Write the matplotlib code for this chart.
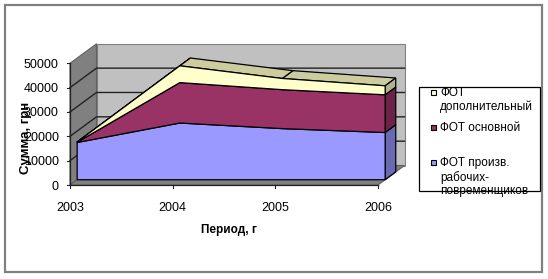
import matplotlib
matplotlib.use("Agg")
import matplotlib.pyplot as plt
from matplotlib.patches import Polygon, Rectangle
from matplotlib.lines import Line2D

plt.rcParams['font.family'] = ['Liberation Sans', 'DejaVu Sans']

years = [2003, 2004, 2005, 2006]
y_ticks = [0, 10000, 20000, 30000, 40000, 50000]

# cumulative tops
fot_worker = [15300, 23300, 21000, 19400]
fot_main = [15400, 39900, 37000, 34900]
fot_extra = [15500, 46800, 41600, 38600]

legend_labels = ["ФОТ\nдополнительный", "ФОТ основной", "ФОТ произв.\nрабочих-\nповременщиков"]

W, H = 548, 279

fig = plt.figure(figsize=(W / 100, H / 100), dpi=100)
# axes is the front plane of the 3d box
ax = fig.add_axes([70 / W, 1 - 185 / H, 308 / W, 121.7 / H])
ax.set_xlim(2003, 2006)
ax.set_ylim(0, 50000)
ax.patch.set_visible(False)
for s in ax.spines.values():
    s.set_visible(False)
ax.set_xticks(years)
ax.set_yticks(y_ticks)
ax.tick_params(axis="x", length=0, pad=12, labelsize=9)
ax.tick_params(axis="y", length=0, pad=8, labelsize=9)


def proj(year, value, depth):
    # oblique projection, depth 1 is the back wall
    px, py = ax.transData.transform((year, value))
    return (px + 26.5 * depth, py + 19.5 * depth)


def face(points, color, edge="black", lw=0.9, z=2):
    fig.add_artist(Polygon(points, closed=True, facecolor=color, edgecolor=edge,
                           linewidth=lw, zorder=z, transform=None))


x0, x1 = years[0], years[-1]
ymax = y_ticks[-1]

# walls and floor
face([proj(x0, 0, 1), proj(x1, 0, 1), proj(x1, ymax, 1), proj(x0, ymax, 1)], "#C0C0C0", edge="#808080", lw=0.8)
face([proj(x0, 0, 0), proj(x0, 0, 1), proj(x0, ymax, 1), proj(x0, ymax, 0)], "#808080", edge="#606060", lw=0.8)
face([proj(x0, 0, 0), proj(x1, 0, 0), proj(x1, 0, 1), proj(x0, 0, 1)], "#808080", edge="#606060", lw=0.8)

# gridlines
for v in y_ticks[1:-1]:
    pts = [proj(x0, v, 0), proj(x0, v, 1), proj(x1, v, 1)]
    fig.add_artist(Line2D([p[0] for p in pts], [p[1] for p in pts], color="#222222", lw=1.0, zorder=3, transform=None))

# axis lines and ticks
pts = [proj(x0, ymax, 0), proj(x0, 0, 0), proj(x1, 0, 0)]
fig.add_artist(Line2D([p[0] for p in pts], [p[1] for p in pts], color="#222222", lw=0.9, zorder=8, transform=None))
for v in y_ticks:
    a = proj(x0, v, 0)
    fig.add_artist(Line2D([a[0] - 3, a[0]], [a[1], a[1]], color="#222222", lw=0.8, zorder=8, transform=None))
for yr in years:
    a = proj(yr, 0, 0)
    fig.add_artist(Line2D([a[0], a[0]], [a[1], a[1] - 3], color="#222222", lw=0.8, zorder=8, transform=None))

d1, d2 = 0.27, 0.67
base = [0, 0, 0, 0]
layers = [
    (base, fot_worker, "#9999FF", "#6A6AB2", "#8585DD"),
    (fot_worker, fot_main, "#993366", "#6B2347", "#7F2A55"),
    (fot_main, fot_extra, "#FFFFCC", "#B2B28E", "#CCCC9F"),
]

z = 4
for low, high, front, side, top in layers:
    # top face, segment by segment
    for i in range(3):
        face([proj(years[i], high[i], d1), proj(years[i + 1], high[i + 1], d1),
              proj(years[i + 1], high[i + 1], d2), proj(years[i], high[i], d2)], top, z=z)
    # right side
    face([proj(x1, low[-1], d1), proj(x1, high[-1], d1),
          proj(x1, high[-1], d2), proj(x1, low[-1], d2)], side, z=z)
    # front
    pts = [proj(yr, v, d1) for yr, v in zip(years, high)]
    pts += [proj(yr, v, d1) for yr, v in zip(years[::-1], low[::-1])]
    face(pts, front, z=z + 0.5)

fig.text(26 / W, 1 - 137.5 / H, "Сумма, грн", rotation=90, fontsize=9.5, fontweight="bold", ha="center", va="center", zorder=9)
fig.text(229 / W, 1 - 230 / H, "Период, г", fontsize=8.5, fontweight="bold", ha="center", va="center", zorder=9)

# legend box drawn by hand, text overflows it in the original
fig.add_artist(Rectangle((419, H - 191), 121, 104, facecolor="white", edgecolor="black", linewidth=0.9, transform=None, zorder=6))
legend_y = [92, 127, 162]
legend_colors = ["#FFFFCC", "#993366", "#9999FF"]
for label, col, ly in zip(legend_labels, legend_colors, legend_y):
    fig.add_artist(Rectangle((431, H - ly - 3), 5, 5, facecolor=col, edgecolor="black", linewidth=0.8, transform=None, zorder=7))
    fig.text(440 / W, 1 - (ly - 5) / H, label, fontsize=8.5, ha="left", va="top", linespacing=1.17, zorder=9)

# outer frame
fig.add_artist(Rectangle((5, H - 272), 537, 267, facecolor="none", edgecolor="#808080", linewidth=1.6, transform=None, zorder=1))

fig.savefig("out.png", dpi=100)
